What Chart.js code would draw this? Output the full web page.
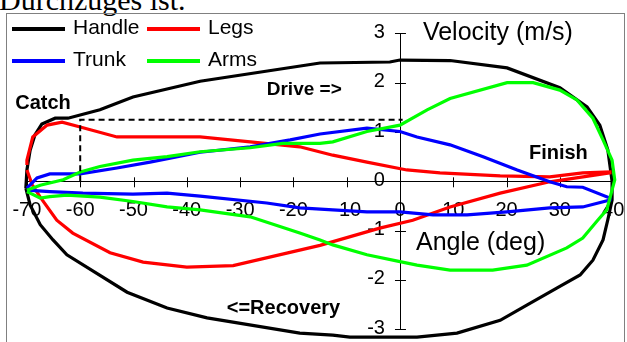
<!DOCTYPE html>
<html>
<head>
<meta charset="utf-8">
<script src="https://cdn.jsdelivr.net/npm/chart.js@4/dist/chart.umd.min.js"></script>
<style>
  html, body { margin: 0; padding: 0; background: #fff; overflow: hidden; }
  #wrap { position: relative; width: 627px; height: 342px; overflow: hidden; }
  #caption { position: absolute; left: -1px; top: -15px; font: 30px/30px "Liberation Serif", "Times New Roman", serif; color: #000; white-space: nowrap; }
  #frame { position: absolute; left: 6px; top: 13px; width: 619px; height: 360px; border: 1px solid #808080; box-sizing: border-box; }
  #chart { position: absolute; left: 0; top: 0; }
</style>
</head>
<body>
<div id="wrap">
  <div id="caption">Durchzuges ist.</div>
  <div id="frame"></div>
  <canvas id="chart" width="627" height="342"></canvas>
</div>
<script>
// Stroke-cycle loops: angle (deg) vs velocity (m/s), catch -> drive -> finish -> recovery
const handleAngle = [-70.2, -70.0, -69.4, -68.5, -67.2, -64.7, -62.3, -56.3, -50.1, -37.5, -15.0, -1.9, 0, 9.4, 20.1, 30.0, 35.1, 37.5, 39.0, 39.8, 39.8, 39.0, 38.1, 36.2, 33.8, 29.5, 23.8, 18.8, 10.7, 3.2, -9.4, -12.6, -18.8, -36.2, -43.7, -51.2, -62.5, -65.1, -67.5, -69.4, -70.2];
const handleVel   = [-0.14, 0.23, 0.63, 0.94, 1.16, 1.28, 1.28, 1.45, 1.71, 2.03, 2.40, 2.42, 2.46, 2.45, 2.30, 1.90, 1.51, 1.14, 0.64, 0.0, -0.38, -0.78, -1.19, -1.60, -1.90, -2.16, -2.51, -2.82, -3.08, -3.16, -3.16, -3.12, -3.08, -2.77, -2.57, -2.25, -1.49, -1.19, -0.88, -0.48, -0.14];

const legsAngle = [-70.0, -70.0, -68.9, -66.2, -63.4, -60.0, -53.1, -37.5, -28.1, -18.8, -12.6, -6.2, 1.3, 7.5, 18.8, 28.1, 34.3, 39.4, 39.4, 28.1, 18.8, 9.4, 2.4, -3.8, -15.0, -31.3, -40.0, -48.2, -54.4, -61.4, -64.4, -67.5, -69.0, -70.0];
const legsVel   = [0.33, 0.43, 0.90, 1.14, 1.20, 1.10, 0.90, 0.90, 0.80, 0.70, 0.53, 0.39, 0.23, 0.17, 0.11, 0.09, 0.17, 0.19, 0.17, -0.01, -0.24, -0.52, -0.79, -0.95, -1.30, -1.71, -1.74, -1.64, -1.45, -1.05, -0.79, -0.32, -0.07, 0.23];

const trunkAngle = [-70.0, -68.1, -65.7, -60.0, -53.1, -46.9, -37.5, -28.1, -20.6, -15.0, -6.2, 0, 3.2, 9.4, 15.6, 22.0, 28.1, 31.3, 34.3, 39.4, 39.4, 34.3, 28.1, 20.1, 12.6, 6.2, 0, -6.2, -12.6, -18.8, -25.0, -37.5, -43.7, -50.1, -59.5, -65.7, -70.0];
const trunkVel   = [-0.14, 0.07, 0.15, 0.15, 0.27, 0.39, 0.59, 0.70, 0.84, 0.96, 1.08, 1.01, 0.90, 0.74, 0.50, 0.23, -0.01, -0.11, -0.12, -0.34, -0.38, -0.52, -0.54, -0.62, -0.68, -0.68, -0.62, -0.62, -0.58, -0.54, -0.44, -0.30, -0.24, -0.26, -0.24, -0.21, -0.18];

const armsAngle = [-70.0, -67.5, -63.2, -60.0, -56.3, -50.1, -43.7, -37.5, -28.1, -22.0, -15.0, -12.6, -6.2, 0, 5.1, 9.4, 20.1, 25.0, 30.0, 33.2, 36.2, 38.1, 39.8, 40.3, 38.8, 37.1, 34.3, 31.3, 23.8, 17.4, 9.4, 3.2, 0, -6.2, -12.6, -15.0, -18.8, -28.1, -37.5, -43.7, -50.1, -56.3, -62.5, -65.7, -67.5, -70.0];
const armsVel   = [-0.18, -0.08, 0.03, 0.19, 0.30, 0.43, 0.50, 0.60, 0.68, 0.77, 0.77, 0.80, 1.01, 1.14, 1.45, 1.68, 2.00, 2.00, 1.85, 1.65, 1.28, 0.84, 0.43, 0.03, -0.58, -0.79, -1.15, -1.35, -1.70, -1.80, -1.80, -1.70, -1.63, -1.49, -1.29, -1.19, -1.05, -0.72, -0.58, -0.52, -0.41, -0.32, -0.28, -0.31, -0.34, -0.21];

// Dashed guide from the catch position
const guideAngle = [-60, -60, 0.5];
const guideVel   = [0, 1.25, 1.25];

// Axis ticks
const angleTicks = [-70, -60, -50, -40, -30, -20, -10, 0, 10, 20, 30, 40];
const velTicks   = [-3, -2, -1, 0, 1, 2, 3];

const seriesNames  = ['Handle', 'Legs', 'Trunk', 'Arms'];
const seriesColors = ['#000000', '#ff0000', '#0000ff', '#00ff00'];

function pts(xs, ys) { return xs.map((x, i) => ({ x, y: ys[i] })); }

const loops = [
  pts(handleAngle, handleVel),
  pts(legsAngle, legsVel),
  pts(trunkAngle, trunkVel),
  pts(armsAngle, armsVel)
];

const datasets = [{
  label: '',
  data: pts(guideAngle, guideVel),
  borderColor: '#000',
  borderWidth: 2,
  borderDash: [6, 4],
  pointRadius: 0,
  showLine: true,
  fill: false
}];
// draw order: arms, trunk, legs, handle on top
[3, 2, 1, 0].forEach(i => datasets.push({
  label: seriesNames[i],
  data: loops[i],
  borderColor: seriesColors[i],
  borderWidth: 3.2,
  pointRadius: 0,
  showLine: true,
  fill: false,
  tension: 0
}));

const SANS = '"Liberation Sans", Arial, sans-serif';

// Axes crossing at the origin, drawn under the loops
const crossAxes = {
  id: 'crossAxes',
  beforeDatasetsDraw(chart) {
    const { ctx, scales: { x, y } } = chart;
    const x0 = x.getPixelForValue(0), y0 = y.getPixelForValue(0);
    const xa = x.getPixelForValue(angleTicks[0]), xb = x.getPixelForValue(angleTicks[angleTicks.length - 1]);
    const ya = y.getPixelForValue(velTicks[0]), yb = y.getPixelForValue(velTicks[velTicks.length - 1]);
    ctx.save();
    ctx.strokeStyle = '#000';
    ctx.lineWidth = 1;
    ctx.beginPath();
    ctx.moveTo(xa, Math.round(y0) + 0.5); ctx.lineTo(xb, Math.round(y0) + 0.5);
    ctx.moveTo(Math.round(x0) + 0.5, ya); ctx.lineTo(Math.round(x0) + 0.5, yb);
    angleTicks.forEach(t => {
      const px = Math.round(x.getPixelForValue(t)) + 0.5;
      ctx.moveTo(px, y0 - 4); ctx.lineTo(px, y0 + 6);
    });
    velTicks.forEach(t => {
      const py = Math.round(y.getPixelForValue(t)) + 0.5;
      ctx.moveTo(x0 - 5, py); ctx.lineTo(x0 + 6, py);
    });
    ctx.stroke();

    ctx.fillStyle = '#000';
    ctx.font = '20px ' + SANS;
    ctx.textAlign = 'center';
    ctx.textBaseline = 'middle';
    angleTicks.forEach(t => ctx.fillText(String(t), x.getPixelForValue(t), y0 + 29));
    ctx.textAlign = 'right';
    velTicks.forEach(t => ctx.fillText(String(t), x0 - 15, y.getPixelForValue(t) - 1));
    ctx.restore();
  }
};

// Axis titles, phase labels and the legend
const notes = [
  { text: 'Velocity (m/s)', x: 4.3,   y: 3.01,  bold: false, size: 25 },
  { text: 'Angle (deg)',    x: 3.0,   y: -1.25, bold: false, size: 25 },
  { text: 'Catch',          x: -72.2, y: 1.57,  bold: true,  size: 20 },
  { text: 'Drive =>',       x: -25.0, y: 1.85,  bold: true,  size: 19 },
  { text: 'Finish',         x: 24.2,  y: 0.57,  bold: true,  size: 20 },
  { text: '<=Recovery',     x: -32.5, y: -2.57, bold: true,  size: 20 }
];

const overlay = {
  id: 'overlay',
  afterDatasetsDraw(chart) {
    const { ctx, scales: { x, y } } = chart;
    ctx.save();
    ctx.fillStyle = '#000';
    ctx.textAlign = 'left';
    ctx.textBaseline = 'middle';
    notes.forEach(n => {
      ctx.font = (n.bold ? 'bold ' : '') + n.size + 'px ' + SANS;
      ctx.fillText(n.text, x.getPixelForValue(n.x), y.getPixelForValue(n.y));
    });

    // legend: two columns, two rows
    const cols = [12, 147], rows = [29, 61];
    ctx.font = '21px ' + SANS;
    seriesNames.forEach((name, i) => {
      const lx = cols[i % 2], ly = rows[Math.floor(i / 2)];
      ctx.strokeStyle = seriesColors[i];
      ctx.lineWidth = 4;
      ctx.beginPath();
      ctx.moveTo(lx, ly); ctx.lineTo(lx + 53, ly);
      ctx.stroke();
      ctx.fillText(name, lx + 61, ly - 1);
    });
    ctx.restore();
  }
};

new Chart(document.getElementById('chart'), {
  type: 'scatter',
  data: { datasets },
  options: {
    responsive: false,
    animation: false,
    layout: { padding: 0 },
    plugins: { legend: { display: false }, tooltip: { enabled: false } },
    scales: {
      x: { type: 'linear', display: false, min: -75.05, max: 42.6 },
      y: { type: 'linear', display: false, min: -3.26, max: 3.678 }
    }
  },
  plugins: [crossAxes, overlay]
});
</script>
</body>
</html>
